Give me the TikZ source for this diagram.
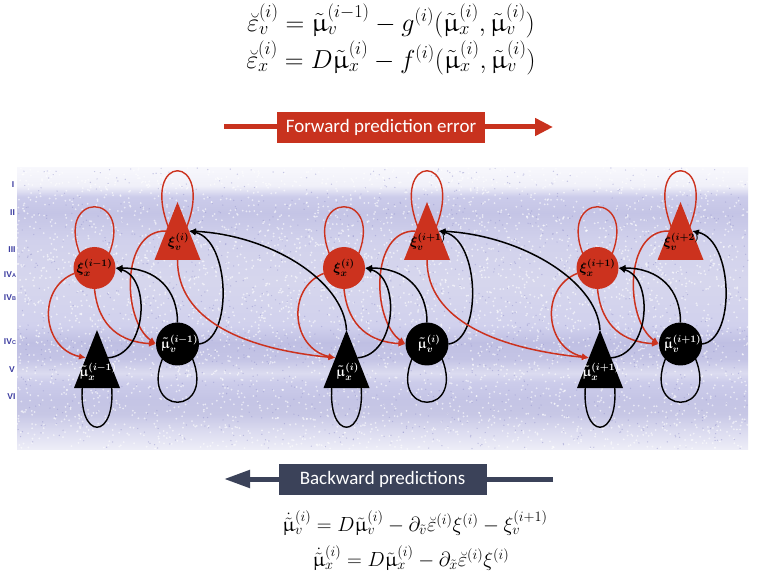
\RequirePackage{fix-cm}
\documentclass[tikz,border=0pt]{standalone}
\usepackage{fontspec}
\usepackage{amsmath}
\usepackage{upgreek}
\usetikzlibrary{arrows.meta,calc}
\newfontfamily\calib{Carlito}
\newfontfamily\lblfont{Liberation Sans}
\definecolor{nred}{RGB}{204,50,30}
\definecolor{fred}{RGB}{200,50,30}
\definecolor{slate}{RGB}{59,66,89}
\definecolor{lyr}{RGB}{60,60,160}
\definecolor{speck}{RGB}{150,150,205}
\pgfdeclarelayer{bg}\pgfdeclarelayer{edges}\pgfsetlayers{bg,edges,main}
\pgfdeclareverticalshading{cortex}{100bp}{%
rgb(0bp)=(0.93,0.93,0.97);
rgb(25bp)=(0.93,0.93,0.97);
rgb(28.2bp)=(0.86,0.86,0.94);
rgb(31.2bp)=(0.78,0.78,0.90);
rgb(33.9bp)=(0.77,0.77,0.90);
rgb(36.9bp)=(0.80,0.80,0.92);
rgb(38.5bp)=(0.86,0.86,0.94);
rgb(41bp)=(0.77,0.77,0.90);
rgb(44bp)=(0.75,0.75,0.89);
rgb(47bp)=(0.82,0.82,0.93);
rgb(55bp)=(0.84,0.84,0.93);
rgb(62bp)=(0.82,0.82,0.925);
rgb(67bp)=(0.77,0.77,0.90);
rgb(69.9bp)=(0.80,0.80,0.92);
rgb(71.8bp)=(0.94,0.94,0.975);
rgb(75bp)=(0.97,0.97,0.99);
rgb(100bp)=(0.97,0.97,0.99)}
\tikzset{
  tri/.style={minimum width=46pt, minimum height=58pt, inner sep=0pt, outer sep=0pt,
    path picture={\fill[#1] (path picture bounding box.south west) -- (path picture bounding box.south east) -- (path picture bounding box.north) -- cycle;}},
  xcirc/.style={circle, fill=nred, minimum size=42pt, inner sep=0pt, outer sep=0pt},
  mvcirc/.style={circle, fill=black, minimum size=43pt, inner sep=0pt, outer sep=0pt},
  lbk/.style={inner sep=0pt, text=black, font=\fontsize{14}{16}\selectfont\boldmath},
  lbw/.style={inner sep=0pt, text=white, font=\fontsize{14}{16}\selectfont\boldmath},
  rl/.style={draw=nred, line width=1.4pt},
  bl/.style={draw=black, line width=1.4pt},
  rarr/.style={draw=nred, line width=1.5pt, -{Latex[length=7pt,width=6.5pt]}},
  barr/.style={draw=black, line width=1.5pt, -{Latex[length=7pt,width=6.5pt]}},
  eqtop/.style={inner sep=0pt, font=\fontsize{26}{30}\selectfont},
  eqbot/.style={inner sep=0pt, font=\fontsize{20.5}{24}\selectfont},
  lyrlbl/.style={inner sep=0pt, text=lyr, font=\lblfont\bfseries\fontsize{8.5}{9}\selectfont},
  banner/.style={minimum width=208pt, minimum height=31pt, inner sep=0pt, text=white, font=\calib\fontsize{19}{22}\selectfont}
}
\begin{document}
\begin{tikzpicture}[x=1pt,y=-1pt]
\useasboundingbox (0,0) rectangle (758,585);
\begin{pgfonlayer}{bg}
\fill[white] (0,0) rectangle (758,585);
\shade[shading=cortex] (17,168) rectangle (748,449);
\pgfmathsetseed{11}
\foreach \i in {1,...,4200} {\fill[white,opacity=.6] ({17+731*rnd},{168+281*rnd}) circle (1pt);}
\foreach \i in {1,...,1400} {\fill[speck,opacity=.5] ({17+731*rnd},{168+281*rnd}) circle (0.7pt);}
\end{pgfonlayer}

% layer labels
\node[lyrlbl] (L1) at (13,185) {I};
\node[lyrlbl] (L2) at (12.5,213) {II};
\node[lyrlbl] (L3) at (12,250) {III};
\node[lyrlbl] (L4) at (10,275) {IV{\fontsize{5.5}{6}\selectfont A}};
\node[lyrlbl] (L5) at (10,298) {IV{\fontsize{5.5}{6}\selectfont B}};
\node[lyrlbl] (L6) at (10,342) {IV{\fontsize{5.5}{6}\selectfont C}};
\node[lyrlbl] (L7) at (12,370) {V};
\node[lyrlbl] (L8) at (11.5,397) {VI};

% equations
\node[eqtop] (e1) at (391,21) {$\breve{\varepsilon}_v^{(i)} = \tilde{\upmu}_v^{(i-1)} - g^{(i)}(\tilde{\upmu}_x^{(i)},\tilde{\upmu}_v^{(i)})$};
\node[eqtop] (e2) at (391,58) {$\breve{\varepsilon}_x^{(i)} = D\tilde{\upmu}_x^{(i)} - f^{(i)}(\tilde{\upmu}_x^{(i)},\tilde{\upmu}_v^{(i)})$};
\node[eqbot] (e3) at (415,523) {$\dot{\tilde{\upmu}}_v^{(i)} = D\tilde{\upmu}_v^{(i)} - \partial_{\tilde{v}}\breve{\varepsilon}^{(i)}\xi^{(i)} - \xi_v^{(i+1)}$};
\node[eqbot] (e4) at (411,558) {$\dot{\tilde{\upmu}}_x^{(i)} = D\tilde{\upmu}_x^{(i)} - \partial_{\tilde{x}}\breve{\varepsilon}^{(i)}\xi^{(i)}$};

% banners
\coordinate (fa) at (224,127);
\coordinate (fb) at (553,127);
\draw[fred, line width=5pt, -{Triangle[length=18pt,width=17pt]}] (fa) -- (fb);
\node[banner, fill=fred] (fwd) at (381,127.5) {Forward prediction error};
\coordinate (ba) at (553,479);
\coordinate (bb) at (224,479);
\draw[slate, line width=5pt, -{Triangle[length=26pt,width=17pt]}] (ba) -- (bb);
\node[banner, fill=slate] (bwd) at (382.5,479) {Backward predictions};

% nodes
\foreach \k/\dx/\p/\q in {1/0/i-1/i, 2/249.5/i/i+1, 3/503/i+1/i+2} {
  \node[xcirc] (x\k) at (94.5+\dx,268) {};
  \node[tri=nred] (v\k) at (177.5+\dx,231) {};
  \node[tri=black] (mx\k) at (97+\dx,359) {};
  \node[mvcirc] (mv\k) at (177.5+\dx,344) {};
  \node[lbk] (xl\k) at (x\k) {$\xi_x^{(\p)}$};
  \node[lbk] (vl\k) at ($(v\k.center)+(1,11)$) {$\xi_v^{(\q)}$};
  \node[lbw] (mxl\k) at ($(mx\k.center)+(1,13)$) {$\tilde{\upmu}_x^{(\p)}$};
  \node[lbw] (mvl\k) at ($(mv\k.center)+(2,0)$) {$\tilde{\upmu}_v^{(\p)}$};
}

\begin{pgfonlayer}{edges}
\foreach \k in {1,2,3} {
  % self loops
  \draw[rl] ($(x\k.center)+(-12,-8)$) .. controls +(-33,-71) and +(33,-71) .. ($(x\k.center)+(12,-8)$);
  \draw[rl] ($(v\k.north)+(-8,28)$) .. controls +(-32,-79) and +(32,-79) .. ($(v\k.north)+(8,28)$);
  \draw[bl] ($(mx\k.south)+(-14,-8)$) .. controls +(-8,63) and +(8,63) .. ($(mx\k.south)+(14,-8)$);
  \draw[bl] ($(mv\k.center)+(-12,8)$) .. controls +(-33,67) and +(33,67) .. ($(mv\k.center)+(12,8)$);
  % red connectors
  \draw[rarr] (x\k.195) .. controls +(-38,15) and +(-44,-9) .. ($(mx\k.north)!0.48!(mx\k.south west)$);
  \draw[rarr] (x\k.south) .. controls +(4,39) and +(-34,-2) .. (mv\k.west);
  \draw[rarr] ($(v\k.north)!0.5!(v\k.south west)$) .. controls +(-45.5,-1) and +(-34,-24) .. (mv\k.west);
  % black connectors
  \draw[barr] ($(mx\k.north)!0.48!(mx\k.south east)$) .. controls +(39,-3) and +(36,10) .. (x\k.east);
  \draw[barr] (mv\k.north) .. controls +(0,-33) and +(41,0) .. (x\k.east);
  \draw[barr] (mv\k.east) .. controls +(34,-4) and +(41.5,9) .. ($(v\k.north)!0.5!(v\k.south east)$);
}
\draw[rarr] (v1.south) .. controls +(0,60) and +(-92,-9) .. ($(mx2.north)!0.48!(mx2.south west)$);
\draw[rarr] (v2.south) .. controls +(0,60) and +(-92,-9) .. ($(mx3.north)!0.48!(mx3.south west)$);
\draw[barr] (mx2.north) .. controls +(-3,-50) and +(81,4) .. ($(v1.north)!0.5!(v1.south east)$);
\draw[barr] (mx3.north) .. controls +(-3,-50) and +(81,4) .. ($(v2.north)!0.5!(v2.south east)$);
\end{pgfonlayer}
\end{tikzpicture}
\end{document}
